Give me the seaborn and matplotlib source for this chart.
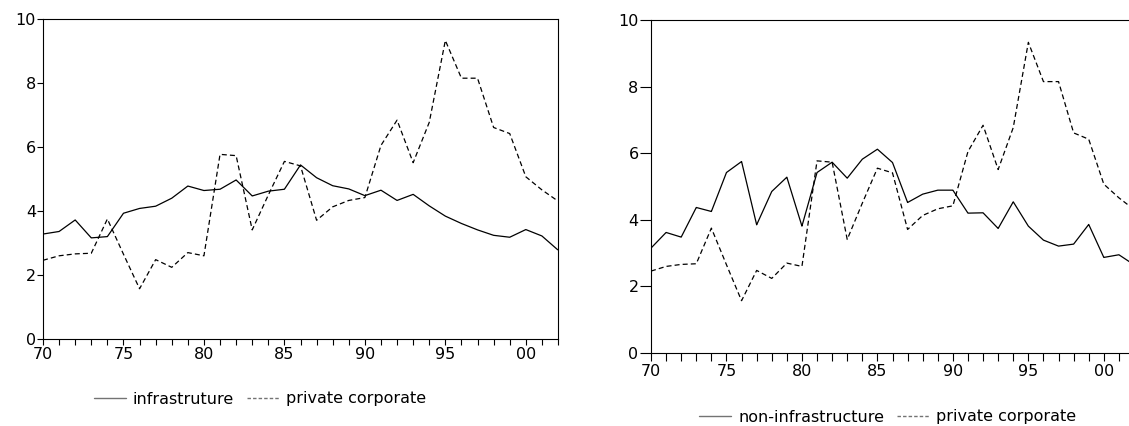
import numpy as np
import pandas as pd
import matplotlib
matplotlib.use("Agg")
import matplotlib.pyplot as plt
from matplotlib.ticker import MultipleLocator, FuncFormatter
import seaborn as sns

# Dane (lata 1970-2002)
years = list(range(1970, 2003))

infrastructure = [3.28, 3.36, 3.72, 3.16, 3.20, 3.93, 4.08, 4.15, 4.40, 4.78,
                  4.64, 4.68, 4.97, 4.47, 4.62, 4.68, 5.44, 5.04, 4.79, 4.69,
                  4.48, 4.65, 4.33, 4.52, 4.16, 3.84, 3.61, 3.41, 3.24, 3.18,
                  3.42, 3.22, 2.78]

non_infrastructure = [3.15, 3.62, 3.48, 4.37, 4.25, 5.42, 5.75, 3.85, 4.85, 5.28,
                      3.81, 5.42, 5.73, 5.25, 5.82, 6.12, 5.72, 4.52, 4.77, 4.89,
                      4.89, 4.20, 4.21, 3.74, 4.54, 3.81, 3.39, 3.21, 3.27, 3.86,
                      2.87, 2.95, 2.65]

private_corporate = [2.46, 2.60, 2.66, 2.68, 3.75, 2.65, 1.57, 2.48, 2.24, 2.70,
                     2.60, 5.77, 5.73, 3.41, 4.50, 5.55, 5.41, 3.71, 4.13, 4.33,
                     4.42, 6.05, 6.84, 5.51, 6.77, 9.33, 8.15, 8.15, 6.61, 6.42,
                     5.07, 4.66, 4.31]

sns.set_style("ticks")
plt.rcParams['font.family'] = ['DejaVu Sans']
plt.rcParams['font.size'] = 11.5
plt.rcParams['text.color'] = 'black'
plt.rcParams['xtick.color'] = 'black'
plt.rcParams['ytick.color'] = 'black'


def year_label(x, pos):
    return f"{int(round(x)) % 100:02d}"


def draw_panel(ax, solid, solid_name, tick_len):
    df = pd.DataFrame({"year": years * 2,
                       "value": solid + private_corporate,
                       "series": [solid_name] * len(years) + ["private corporate"] * len(years)})
    sns.lineplot(data=df, x="year", y="value", hue="series", style="series",
                 palette=["black", "black"], dashes=[(1, 0), (4, 2.5)],
                 linewidth=0.9, ax=ax, legend=False)
    ax.set_xlim(1970, 2002)
    ax.set_ylim(0, 10)
    ax.xaxis.set_major_locator(MultipleLocator(5))
    ax.xaxis.set_minor_locator(MultipleLocator(1))
    ax.xaxis.set_major_formatter(FuncFormatter(year_label))
    ax.yaxis.set_major_locator(MultipleLocator(2))
    ax.set_xlabel("")
    ax.set_ylabel("")
    ax.tick_params(axis="y", direction="out", length=tick_len[0], width=0.8, pad=1,
                   labelsize=11.5, colors="black")
    ax.tick_params(axis="x", which="both", direction="out", length=tick_len[1], width=0.8, pad=2,
                   labelsize=11.5, colors="black")
    for s in ax.spines.values():
        s.set_linewidth(0.8)
        s.set_color("black")


fig = plt.figure(figsize=(11.29, 4.26), dpi=100)
ax1 = fig.add_axes([43 / 1129, 87 / 426, 515 / 1129, 320 / 426])
ax2 = fig.add_axes([651 / 1129, 73 / 426, 483 / 1129, 333 / 426])

draw_panel(ax1, infrastructure, "infrastruture", (4, 4))
draw_panel(ax2, non_infrastructure, "non-infrastructure", (8, 6))

# Legendy pod wykresami
for ax, name, pos in [(ax1, "infrastruture", (260 / 1129, 1 - 399 / 426)),
                      (ax2, "non-infrastructure", (888 / 1129, 1 - 417 / 426))]:
    h1, = ax.plot([], [], color="0.45", lw=1.0, ls="-")
    h2, = ax.plot([], [], color="0.45", lw=1.0, ls=(0, (2.5, 1.5)))
    fig.legend([h1, h2], [name, "private corporate"], loc="center", bbox_to_anchor=pos,
               ncol=2, frameon=False, fontsize=11.5, handlelength=2.0, handletextpad=0.45,
               columnspacing=0.8, borderpad=0, labelcolor="black")

fig.savefig("out.png", dpi=100)
